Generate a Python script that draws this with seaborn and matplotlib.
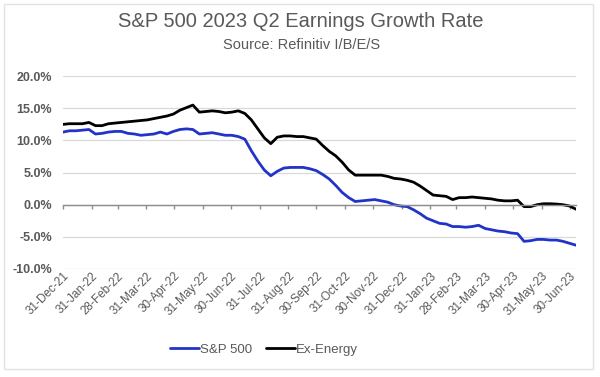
#! /usr/bin/env python3
# S&P 500 2023 Q2 earnings growth rate, weekly estimates
import matplotlib
matplotlib.use('Agg')
from matplotlib.patches import Rectangle
from matplotlib.ticker import FuncFormatter
import matplotlib.pyplot as plt
import pandas as pd
import seaborn as sns

# data (weekly)
start_date = '2021-12-31'
sp500 = [11.3, 11.5, 11.5, 11.6, 11.7, 11.0, 11.1, 11.3, 11.4, 11.4,
         11.1, 11.0, 10.8, 10.9, 11.0, 11.3, 11.0, 11.4, 11.7, 11.8,
         11.7, 11.0, 11.1, 11.2, 11.0, 10.8, 10.8, 10.6, 10.2, 8.4,
         6.8, 5.4, 4.5, 5.2, 5.7, 5.8, 5.8, 5.8, 5.6, 5.3,
         4.7, 4.0, 3.0, 1.9, 1.1, 0.5, 0.6, 0.7, 0.8, 0.6,
         0.4, 0.0, -0.2, -0.3, -0.8, -1.4, -2.1, -2.5, -2.9, -3.0,
         -3.4, -3.4, -3.5, -3.4, -3.2, -3.7, -3.9, -4.1, -4.2, -4.4,
         -4.5, -5.7, -5.6, -5.4, -5.4, -5.5, -5.5, -5.7, -6.0, -6.3]
ex_energy = [12.5, 12.6, 12.6, 12.6, 12.8, 12.3, 12.3, 12.6, 12.7, 12.8,
             12.9, 13.0, 13.1, 13.2, 13.4, 13.6, 13.8, 14.1, 14.7, 15.1,
             15.5, 14.4, 14.5, 14.6, 14.5, 14.3, 14.4, 14.6, 14.2, 13.2,
             11.8, 10.4, 9.5, 10.5, 10.7, 10.7, 10.6, 10.6, 10.4, 10.2,
             9.2, 8.3, 7.6, 6.6, 5.4, 4.6, 4.6, 4.6, 4.6, 4.6,
             4.4, 4.1, 4.0, 3.8, 3.5, 2.9, 2.2, 1.5, 1.4, 1.3,
             0.8, 1.1, 1.1, 1.2, 1.1, 1.0, 0.9, 0.7, 0.6, 0.6,
             0.7, -0.3, -0.3, 0.0, 0.15, 0.15, 0.1, 0.0, -0.2, -0.7]
month_ends = pd.date_range('2021-12-31', '2023-06-30', freq='ME')
y_ticks = [-10, -5, 0, 5, 10, 15, 20]

dates = pd.date_range(start_date, periods=len(sp500), freq='7D')
data = pd.DataFrame({'date': list(dates) * 2,
                     'value': sp500 + ex_energy,
                     'series': ['S&P 500'] * len(sp500) + ['Ex-Energy'] * len(ex_energy)})

# settings
sns.set_style('white')
plt.rcParams['font.family'] = ['Liberation Sans', 'DejaVu Sans']
pal = {'S&P 500': '#2233C8', 'Ex-Energy': '#000000'}
grey = '#595959'

fig = plt.figure(figsize=(6, 3.77), dpi=100)
ax = fig.add_axes([0.105, 0.2865, 0.855, 0.5115])
sns.lineplot(data=data, x='date', y='value', hue='series', palette=pal,
             linewidth=2.0, ax=ax, legend=False)

ax.set_ylim(-10, 20)
ax.set_xlim(dates[0], dates[-1])
ax.set_yticks(y_ticks)
ax.yaxis.set_major_formatter(FuncFormatter(lambda v, p: '%.1f%%' % v))
ax.grid(axis='y', color='#D9D9D9', linewidth=0.9)
ax.set_axisbelow(True)
for s in ['top', 'right', 'left']:
    ax.spines[s].set_visible(False)
ax.spines['bottom'].set_position(('data', 0))
ax.spines['bottom'].set_color('#8C8C8C')
ax.spines['bottom'].set_linewidth(1.0)

ax.set_xticks(month_ends)
ax.set_xticklabels([d.strftime('%d-%b-%y') for d in month_ends])
ax.tick_params(axis='x', direction='out', length=3, width=1, color='#8C8C8C',
               pad=44, labelsize=8.5, labelcolor=grey, bottom=True)
plt.setp(ax.get_xticklabels(), rotation=45, ha='right', rotation_mode='anchor')
ax.tick_params(axis='y', length=0, pad=8, labelsize=9, labelcolor=grey)
for t in ax.get_yticklabels():
    t.set_fontweight('bold')
ax.set_xlabel('')
ax.set_ylabel('')

# titles
fig.text(0.502, 0.942, 'S&P 500 2023 Q2 Earnings Growth Rate', ha='center', va='center',
         fontsize=14.5, color=grey)
fig.text(0.502, 0.881, 'Source: Refinitiv I/B/E/S', ha='center', va='center',
         fontsize=10.5, color=grey)

# legend
handles = [plt.Line2D([], [], color=pal[k], linewidth=2.0) for k in ['S&P 500', 'Ex-Energy']]
fig.legend(handles, ['S&P 500', 'Ex-Energy'], loc='center', bbox_to_anchor=(0.44, 0.072),
           ncol=2, frameon=False, fontsize=9.5, labelcolor=grey, handlelength=2.2,
           handletextpad=0.1, columnspacing=1.0)

# light frame around the chart
fig.patches.append(Rectangle((0.007, 0.021), 0.982, 0.968, transform=fig.transFigure,
                             fill=False, edgecolor='#E3E3E3', linewidth=1.0))

fig.savefig('out.png', dpi=100)
plt.close()
